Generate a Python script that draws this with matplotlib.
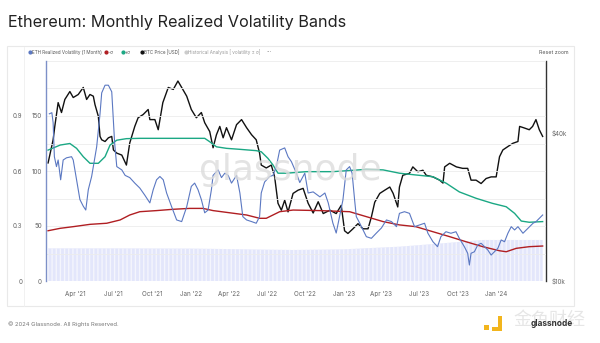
import matplotlib
matplotlib.use('Agg')
import matplotlib.pyplot as plt
from matplotlib.patches import Rectangle
from matplotlib.lines import Line2D
from matplotlib.ticker import FixedLocator, NullLocator, NullFormatter
import pandas as pd

plt.rcParams['font.family'] = ['Inter', 'DejaVu Sans']

''' Ethereum monthly realized volatility bands (values read off the glassnode chart) '''

# ETH realized volatility (1 month), left axis
vol_dates = ['2021-01-28', '2021-02-03', '2021-02-06', '2021-02-09', '2021-02-14', '2021-02-18', '2021-02-24',
             '2021-03-02', '2021-03-10', '2021-03-22', '2021-03-26', '2021-04-03', '2021-04-11', '2021-04-19',
             '2021-04-25', '2021-05-01', '2021-05-09', '2021-05-21', '2021-05-29', '2021-06-02', '2021-06-10',
             '2021-06-18', '2021-06-26', '2021-06-30', '2021-07-03', '2021-07-08', '2021-07-20', '2021-07-28',
             '2021-08-08', '2021-08-20', '2021-09-01', '2021-09-13', '2021-09-25', '2021-10-03', '2021-10-11',
             '2021-10-19', '2021-10-27', '2021-11-04', '2021-11-16', '2021-11-28', '2021-12-10', '2021-12-22',
             '2022-01-02', '2022-01-10', '2022-01-18', '2022-01-26', '2022-02-03', '2022-02-11', '2022-02-19',
             '2022-02-23', '2022-03-07', '2022-03-15', '2022-03-23', '2022-03-31', '2022-04-08', '2022-04-20',
             '2022-04-28', '2022-05-05', '2022-05-14', '2022-05-26', '2022-06-06', '2022-06-14', '2022-06-18',
             '2022-06-26', '2022-07-08', '2022-07-16', '2022-07-24', '2022-08-01', '2022-08-13', '2022-08-21',
             '2022-08-29', '2022-09-10', '2022-09-18', '2022-09-30', '2022-10-08', '2022-10-20', '2022-11-05',
             '2022-11-17', '2022-11-25', '2022-12-06', '2022-12-14', '2022-12-22', '2022-12-30',
             '2023-01-07', '2023-01-15', '2023-01-21', '2023-01-27', '2023-01-31', '2023-02-08', '2023-02-16',
             '2023-02-24', '2023-03-08', '2023-03-20', '2023-04-01', '2023-04-13', '2023-04-25', '2023-05-07',
             '2023-05-14', '2023-05-26', '2023-06-07', '2023-06-19', '2023-07-01', '2023-07-13', '2023-07-21',
             '2023-08-02', '2023-08-13', '2023-08-21', '2023-09-02', '2023-09-14', '2023-09-26', '2023-10-04',
             '2023-10-16', '2023-10-24', '2023-10-28', '2023-11-01', '2023-11-09', '2023-11-17', '2023-11-25',
             '2023-12-03', '2023-12-11', '2023-12-19', '2023-12-27',
             '2024-01-04', '2024-01-12', '2024-01-20', '2024-01-28', '2024-02-05', '2024-02-13', '2024-02-21',
             '2024-03-04', '2024-03-16', '2024-03-28', '2024-04-04', '2024-04-12', '2024-04-20']
vol_values = [152, 153, 144, 113, 104, 110, 92,
              110, 112, 113, 110, 92, 74, 68,
              64.5, 83, 95, 122, 152, 171, 178,
              178, 172, 146, 125, 104, 101, 96,
              94, 89, 84.5, 78, 71, 83, 92,
              95, 92, 80, 67.5, 55.5, 54, 67.5,
              86, 89, 83, 74, 62, 64.5, 83,
              96, 101, 94, 98, 96, 89, 96,
              80, 58.5, 55.5, 54, 52.5, 58.5, 80,
              90, 95, 96, 104, 119, 121, 113,
              108.5, 98, 89.5, 98, 80, 81, 76.5,
              80, 71, 52.7, 43.6, 58.5, 73.6,
              101, 104, 98, 73.6, 58.5, 52.7, 46.4,
              40.3, 38.8, 43.6, 48.2, 55.5, 54, 49.4,
              61.5, 63, 61.5, 49.4, 51, 52.5, 43.4,
              35.7, 31.2, 40.3, 44.8, 43.4, 44.8, 38.8,
              31.2, 25.2, 14.5, 25.2, 26.6, 32.7, 34.3,
              31.2, 28.2, 23.6, 26.6,
              29.7, 37.3, 35.7, 43.4, 49.4, 46.4, 49.4,
              43.4, 47.9, 52.5, 53.9, 57, 60]

# +sigma band
upper_dates = ['2021-01-25', '2021-02-23', '2021-03-18', '2021-04-03', '2021-04-19', '2021-05-05', '2021-05-25',
               '2021-06-10', '2021-06-22', '2021-07-08', '2021-07-31', '2021-09-01', '2022-02-03', '2022-02-15',
               '2022-03-03', '2022-03-27', '2022-04-28', '2022-06-06', '2022-06-18', '2022-07-04', '2022-07-16',
               '2022-07-28', '2022-08-17', '2022-10-04', '2022-12-06', '2023-02-24', '2023-04-05', '2023-05-14',
               '2023-06-22', '2023-08-02', '2023-09-03', '2023-10-04', '2023-11-13', '2023-12-22', '2024-01-24',
               '2024-02-13', '2024-02-29', '2024-03-19', '2024-04-20']
upper_values = [119, 123.6, 125, 120.6, 113, 107, 107,
                113, 123.6, 128, 129.4, 129.7, 129.7, 126.6,
                122, 120.6, 119.7, 118.5, 117.5, 111.5, 105.5,
                98, 98, 99.4, 99.4, 101.5, 101, 98,
                96.4, 94.8, 88.8, 81, 75.2, 70.6, 67.5,
                61.5, 54.5, 53.4, 54]

# -sigma band
lower_dates = ['2021-01-25', '2021-02-23', '2021-03-26', '2021-05-05', '2021-06-14', '2021-07-16', '2021-08-08',
               '2021-09-01', '2021-10-11', '2021-11-20', '2021-12-29', '2022-01-30', '2022-02-23', '2022-04-04',
               '2022-05-14', '2022-06-14', '2022-06-30', '2022-07-16', '2022-08-01', '2022-09-02', '2022-11-05',
               '2023-01-15', '2023-02-24', '2023-04-05', '2023-05-14', '2023-06-22', '2023-08-02', '2023-09-11',
               '2023-10-20', '2023-11-29', '2024-01-08', '2024-01-24', '2024-02-17', '2024-03-19', '2024-04-20']
lower_values = [45.7, 47.9, 49.4, 51.5, 52.5, 55.5, 60,
                63, 64, 65.2, 66, 66, 64, 62,
                60, 57, 57, 60, 63, 64.5, 64,
                63, 58.5, 54, 51, 49.4, 44.8, 40.3,
                35.7, 31.2, 27.5, 26.6, 29.7, 31.2, 31.8]

# historical analysis area
hist_dates = ['2021-01-25', '2021-07-01', '2022-01-01', '2022-09-01', '2023-01-01', '2023-05-14',
              '2023-09-11', '2023-11-29', '2024-04-20']
hist_values = [29.7, 29.7, 29.5, 28.2, 28.8, 31.2, 34.8, 37.3, 37.3]

# BTC price (USD), right log axis
btc_dates = ['2021-01-25', '2021-02-06', '2021-02-10', '2021-02-18', '2021-02-26', '2021-03-06', '2021-03-18',
             '2021-03-26', '2021-04-07', '2021-04-19', '2021-04-27', '2021-05-05', '2021-05-13', '2021-05-17',
             '2021-05-25', '2021-05-29', '2021-06-02', '2021-06-10', '2021-06-18', '2021-06-26', '2021-06-30',
             '2021-07-08', '2021-07-20', '2021-07-31', '2021-08-08', '2021-08-20', '2021-08-28', '2021-09-09',
             '2021-09-21', '2021-09-25', '2021-10-07', '2021-10-15', '2021-10-26', '2021-11-08', '2021-11-20',
             '2021-12-01', '2021-12-10', '2021-12-22',
             '2022-01-02', '2022-01-14', '2022-01-26', '2022-02-03', '2022-02-15', '2022-02-23', '2022-03-03',
             '2022-03-11', '2022-03-19', '2022-03-27', '2022-04-08', '2022-04-20', '2022-05-02', '2022-05-14',
             '2022-05-26', '2022-06-06', '2022-06-14', '2022-06-18', '2022-06-30', '2022-07-12', '2022-07-20',
             '2022-07-28', '2022-08-05', '2022-08-13', '2022-08-21', '2022-09-02', '2022-09-14', '2022-09-26',
             '2022-10-08', '2022-10-20', '2022-11-01', '2022-11-13', '2022-11-29', '2022-12-14', '2022-12-26',
             '2023-01-03', '2023-01-11', '2023-01-23', '2023-02-04', '2023-02-16', '2023-02-28', '2023-03-08',
             '2023-03-16', '2023-03-28', '2023-04-09', '2023-04-21', '2023-04-29', '2023-05-10', '2023-05-14',
             '2023-05-22', '2023-06-07', '2023-06-15', '2023-06-27', '2023-07-09', '2023-07-17', '2023-08-02',
             '2023-08-18', '2023-08-26', '2023-08-30', '2023-09-11', '2023-09-27', '2023-10-12', '2023-10-24',
             '2023-11-01', '2023-11-13', '2023-11-25', '2023-12-07', '2023-12-19', '2023-12-31',
             '2024-01-08', '2024-01-16', '2024-01-28', '2024-02-09', '2024-02-21', '2024-02-25', '2024-03-07',
             '2024-03-19', '2024-03-27', '2024-04-04', '2024-04-12', '2024-04-20']
btc_values_k = [30.2, 37.5, 42.5, 53.1, 48.4, 54.7, 58.9,
                55.7, 57.3, 61.2, 54.7, 57.3, 56.4, 52.1,
                46.7, 38.7, 37.5, 36.9, 38.2, 38.7, 34.1,
                33.1, 32.5, 29.6, 36.4, 42.5, 46.1, 47.5,
                49.8, 45.3, 45.3, 41.2, 53.1, 61.2, 60.1,
                65.0, 61.2, 56.4,
                49.8, 46.1, 48.4, 44.0, 40.5, 34.8, 39.3,
                42.5, 38.2, 42.0, 37.5, 43.2, 45.3, 42.0,
                39.3, 37.5, 33.1, 29.6, 28.8, 29.6, 26.5,
                20.7, 19.4, 21.3, 19.1, 22.7, 23.4, 23.8,
                20.7, 18.9, 21.0, 18.8, 19.4, 18.8, 20.3,
                16.0, 15.6, 16.3, 17.1, 16.3, 16.3, 18.2,
                20.9, 22.7, 23.4, 24.1, 22.7, 20.0, 24.1,
                26.9, 27.4, 29.1, 27.8, 28.2, 26.9, 26.5,
                25.7, 25.0, 29.1, 30.1, 29.1, 28.7, 28.7,
                25.7, 25.7, 24.9, 26.1, 26.5, 26.5,
                32.0, 34.1, 35.2, 36.3, 36.9, 42.5, 41.9,
                41.2, 42.5, 45.3, 41.2, 38.7]

tick_dates = ['2021-04-01', '2021-07-01', '2021-10-01', '2022-01-01', '2022-04-01', '2022-07-01',
              '2022-10-01', '2023-01-01', '2023-04-01', '2023-07-01', '2023-10-01', '2024-01-01']
tick_labels = ["Apr '21", "Jul '21", "Oct '21", "Jan '22", "Apr '22", "Jul '22",
               "Oct '22", "Jan '23", "Apr '23", "Jul '23", "Oct '23", "Jan '24"]

W, H = 600, 343
fig = plt.figure(figsize=(6, 3.43), dpi=100)

def fx(px):
    return px / W

def fy(py):
    return 1 - py / H

# card frame
fig.add_artist(Rectangle((fx(7), fy(306)), 567 / W, 260 / H, transform=fig.transFigure,
                         fill=False, edgecolor='#e9e9e9', lw=0.8))
fig.add_artist(Line2D([fx(24), fx(24)], [fy(306), fy(47)], transform=fig.transFigure,
                      color='#efefef', lw=0.6))

ax = fig.add_axes([fx(46), fy(281), 500 / W, 220 / H])
ax2 = ax.twinx()
ax.set_zorder(ax2.get_zorder() + 1)
ax.patch.set_visible(False)

c_vol = '#5b78c2'
c_up = '#1ba884'
c_low = '#b01e22'
c_hist = '#e3e6fb'

hd = pd.to_datetime(hist_dates)
ax.fill_between(hd, 0, hist_values, facecolor=c_hist, edgecolor='#f4f5fd', hatch='||||', lw=0, zorder=1)
ax.plot(pd.to_datetime(lower_dates), lower_values, color=c_low, lw=1.0, zorder=3)
ax.plot(pd.to_datetime(upper_dates), upper_values, color=c_up, lw=1.0, zorder=3)
ax.plot(pd.to_datetime(vol_dates), vol_values, color=c_vol, lw=0.8, zorder=4)

ax2.plot(pd.to_datetime(btc_dates), [v * 1000 for v in btc_values_k], color='#111111', lw=1.0)
ax2.set_yscale('log')
ax2.set_ylim(10000, 78400)
ax2.yaxis.set_major_locator(FixedLocator([10000, 40000]))
ax2.yaxis.set_minor_locator(NullLocator())
ax2.yaxis.set_minor_formatter(NullFormatter())
ax2.set_yticklabels(['$10k', '$40k'])

ax.set_ylim(0, 200)
ax.set_yticks([0, 50, 100, 150])
ax.set_yticks(range(0, 201, 25), minor=True)
ax.grid(True, which='minor', axis='y', color='#ececec', lw=0.6)
ax.grid(True, which='major', axis='y', color='#ececec', lw=0.6)
ax.set_xlim(pd.Timestamp('2021-01-20'), pd.Timestamp('2024-04-28'))
ax.set_xticks(pd.to_datetime(tick_dates))
ax.set_xticklabels(tick_labels)

outer = ax.secondary_yaxis('left', functions=(lambda v: v * 0.006, lambda r: r / 0.006))
outer.set_yticks([0, 0.3, 0.6, 0.9])
outer.set_yticklabels(['0', '0.3', '0.6', '0.9'])
outer.spines['left'].set_visible(False)
outer.tick_params(length=0, pad=17, labelsize=4.5, labelcolor='#666666')

for a in (ax, ax2):
    for s in a.spines.values():
        s.set_visible(False)
ax2.spines['right'].set_visible(True)
ax2.spines['right'].set_color('#333333')
ax2.spines['right'].set_linewidth(1.0)
ax.spines['left'].set_visible(True)
ax.spines['left'].set_color('#7d90c8')
ax.spines['left'].set_linewidth(1.0)

ax.tick_params(axis='y', which='both', length=0, pad=3, labelsize=4.5, labelcolor='#666666')
ax.tick_params(axis='x', length=0, pad=7, labelsize=4.5, labelcolor='#666666')
ax2.tick_params(axis='y', length=0, pad=4, labelsize=4.5, labelcolor='#666666')

# watermark
fig.text(fx(290), fy(170), 'glassnode', fontsize=26, color='#dcdcdc', alpha=0.8,
         ha='center', va='center', family=['DejaVu Sans'], zorder=10)

# title and footer
fig.text(fx(8), fy(22), 'Ethereum: Monthly Realized Volatility Bands', fontsize=11.7,
         color='#222222', va='center', ha='left')
fig.text(fx(8), fy(324), '\u00a9 2024 Glassnode. All Rights Reserved.', fontsize=4.2,
         color='#777777', va='center', ha='left')

# legend row
legend_items = [(30, c_vol, 'ETH Realized Volatility (1 Month)'), (106, c_low, '-\u03c3'),
                (122.5, c_up, '+\u03c3'), (141.5, '#111111', 'BTC Price [USD]'),
                (186, '#cccccc', 'Historical Analysis [ volatility \u00b1 \u03c3]')]
for x0, col, lab in legend_items:
    fig.add_artist(Line2D([fx(x0)], [fy(52.3)], marker='o', markersize=2.0, color=col,
                          transform=fig.transFigure, lw=0))
    fig.text(fx(x0 + 2.3), fy(52.3), lab, fontsize=3.3,
             color='#555555' if col != '#cccccc' else '#999999', va='center', ha='left')
fig.text(fx(266.5), fy(52.3), '\u00b7\u00b7\u00b7', fontsize=4.5, color='#999999', va='center', ha='left')
fig.text(fx(554), fy(53), 'Reset zoom', fontsize=3.8, color='#555555', va='center', ha='center')

# corner watermark
fig.add_artist(Rectangle((fx(484), fy(330)), 5 / W, 5 / H, transform=fig.transFigure,
                         color='#f2b51d', lw=0))
fig.add_artist(Rectangle((fx(492), fy(331)), 10 / W, 4 / H, transform=fig.transFigure,
                         color='#f2b51d', lw=0))
fig.add_artist(Rectangle((fx(498), fy(331)), 4 / W, 15 / H, transform=fig.transFigure,
                         color='#f2b51d', lw=0))
fig.text(fx(549), fy(320), '\u91d1\u8272\u8d22\u7ecf', fontsize=13, color='#e6e6e6',
         family=['Noto Sans CJK SC', 'DejaVu Sans'], va='center', ha='center')
fig.text(fx(552), fy(323), 'glassnode', fontsize=6, color='#333333', weight='bold',
         va='center', ha='center')

plt.savefig('out.png', dpi=100)
